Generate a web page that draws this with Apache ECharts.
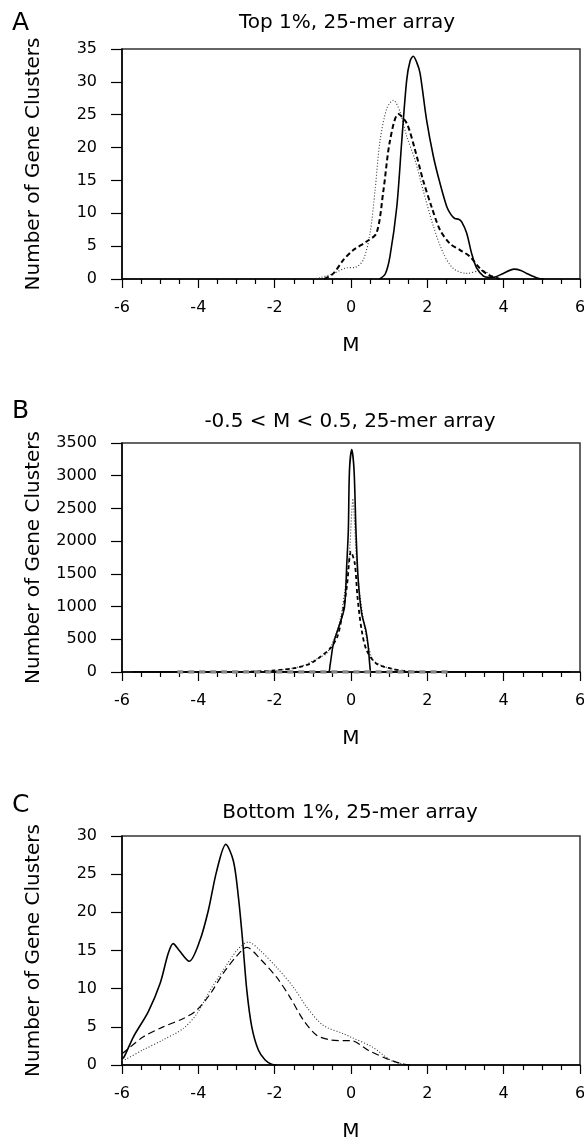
<!DOCTYPE html>
<html>
<head>
<meta charset="utf-8">
<script src="https://cdn.jsdelivr.net/npm/echarts@6/dist/echarts.min.js"></script>
<style>
  html, body { margin: 0; padding: 0; background: #fff; }
  #myChart { width: 584px; height: 1145px; }
</style>
</head>
<body>
<div id="myChart"></div>
<script>
// panel titles / tick settings
var panelTitles = ['Top 1%, 25-mer array', '-0.5 < M < 0.5, 25-mer array', 'Bottom 1%, 25-mer array'];
var panelLetters = ['A', 'B', 'C'];
var yMax = [35, 3500, 30];
var yStep = [5, 500, 5];

// A: top 1%
var aSolidM = [0.75, 0.9, 1.02, 1.2, 1.33, 1.46, 1.55, 1.63, 1.72, 1.81, 1.98, 2.16, 2.33, 2.51, 2.62, 2.72, 2.82, 2.9, 3.03, 3.16, 3.29, 3.47, 3.6, 3.73, 3.99, 4.27, 4.45, 4.6, 4.9, 5.05];
var aSolidN = [0, 0.8, 3.4, 11, 21, 30.3, 33.2, 33.9, 33.0, 31.3, 24.2, 18.6, 14.6, 11, 9.8, 9.2, 9.1, 8.7, 7, 3.9, 1.7, 0.45, 0.25, 0.25, 0.85, 1.5, 1.3, 0.85, 0.1, 0];
var aDashM = [-0.7, -0.46, -0.2, 0.06, 0.41, 0.67, 0.85, 1.02, 1.24, 1.46, 1.68, 1.89, 2.11, 2.33, 2.59, 2.86, 3.12, 3.38, 3.64, 3.9];
var aDashN = [0, 0.85, 2.9, 4.4, 5.7, 7, 13.5, 21, 25.1, 23.7, 19.6, 15, 11, 7.5, 5.4, 4.4, 3.4, 1.6, 0.5, 0];
var aDotM = [-1.0, -0.81, -0.46, -0.11, 0.1, 0.32, 0.5, 0.63, 0.76, 0.94, 1.11, 1.28, 1.46, 1.68, 1.89, 2.16, 2.42, 2.68, 3.03, 3.42, 3.73, 4.0];
var aDotN = [0, 0.2, 0.85, 1.7, 1.75, 2.9, 7, 13.5, 21, 26, 27.2, 25.5, 21.7, 18.1, 13.5, 8, 3.9, 1.6, 0.85, 1.3, 0.4, 0];

// B: -0.5 < M < 0.5
var bSolidM = [-5.75, -0.6, -0.55, -0.46, -0.29, -0.17, -0.11, -0.07, -0.04, 0.02, 0.08, 0.13, 0.19, 0.28, 0.39, 0.45, 0.5, 0.53, 5.75];
var bSolidN = [0, 0, 100, 434, 740, 993, 1660, 2165, 3082, 3398, 3082, 2165, 1400, 895, 637, 400, 60, 0, 0];
var bDashM = [-3.0, -2.5, -2.0, -1.42, -1.07, -0.81, -0.55, -0.36, -0.24, -0.11, 0.0, 0.1, 0.17, 0.28, 0.41, 0.67, 1.07, 1.35, 1.8];
var bDashN = [0, 10, 25, 66, 127, 229, 357, 535, 840, 1299, 1840, 1656, 1146, 637, 331, 127, 50, 20, 0];
var bDotM = [-2.5, -2.0, -1.5, -1.2, -1.0, -0.8, -0.64, -0.42, -0.27, -0.16, -0.05, 0.02, 0.05, 0.1, 0.15, 0.24, 0.37, 0.46, 0.58, 0.8, 1.02, 1.3, 1.6];
var bDotN = [0, 20, 60, 110, 170, 230, 281, 535, 840, 1248, 1757, 2450, 2650, 2200, 1656, 1146, 637, 382, 179, 100, 56, 20, 0];
var bGrayM = [-4.55, 2.65];
var bGrayN = [0, 0];

// C: bottom 1%
var cSolidM = [-6.0, -5.94, -5.7, -5.31, -5.0, -4.79, -4.66, -4.5, -4.24, -3.96, -3.74, -3.52, -3.28, -3.08, -2.95, -2.84, -2.73, -2.6, -2.43, -2.25, -2.08, -1.95];
var cSolidN = [0.8, 1.1, 3.7, 7, 10.7, 14.6, 15.9, 15.0, 13.6, 16.3, 20.2, 25.4, 28.9, 26.7, 22, 16.3, 9.8, 5, 2, 0.65, 0.1, 0];
var cDashM = [-6.0, -5.94, -5.44, -4.92, -4.39, -4.04, -3.69, -3.35, -2.99, -2.73, -2.38, -1.95, -1.6, -1.25, -0.9, -0.55, -0.2, 0.0, 0.46, 0.95, 1.32, 1.6];
var cDashN = [1.5, 1.7, 3.7, 5, 6.1, 7.2, 9.3, 12, 14.3, 15.4, 13.9, 11.5, 8.9, 5.9, 3.9, 3.3, 3.2, 3.2, 1.9, 0.8, 0.17, 0];
var cDotM = [-6.0, -5.94, -5.44, -4.92, -4.39, -4.04, -3.69, -3.35, -2.99, -2.69, -2.38, -1.95, -1.51, -1.16, -0.73, -0.2, 0.0, 0.56, 1.05, 1.4, 1.6];
var cDotN = [0.6, 0.65, 2, 3.3, 4.8, 6.7, 9.8, 12.4, 15, 16.1, 15, 12.8, 10.2, 7.6, 5.2, 4.1, 3.65, 2.35, 0.6, 0.1, 0];

var FONT = '"DejaVu Sans", sans-serif';

function pairs(m, n) {
  return m.map(function (x, i) { return [x, n[i]]; });
}

// plot areas (px)
var grids = [
  { left: 122, right: 4, top: 49, height: 230 },
  { left: 122, right: 4, top: 443, height: 229 },
  { left: 122, right: 4, top: 836, height: 229 }
];
var titleY = [23, 422, 813];
var titleX = [347, 350, 350];
var letterY = [23, 411, 805];

function line(idx, data, style, z) {
  return {
    type: 'line',
    xAxisIndex: idx,
    yAxisIndex: idx,
    data: data,
    showSymbol: false,
    smooth: 0.3,
    z: z || 2,
    lineStyle: style
  };
}

var solid = { color: '#000', width: 1.6, type: 'solid' };
var dotted = { color: '#333', width: 1.1, type: [1, 2] };

var option = {
  animation: false,
  backgroundColor: '#fff',
  grid: grids.map(function (g) {
    return Object.assign({
      show: true,
      borderColor: '#333',
      borderWidth: 1.5,
      containLabel: false,
      outerBoundsMode: 'none'
    }, g);
  }),
  xAxis: grids.map(function (g, i) {
    return {
      type: 'value',
      gridIndex: i,
      min: -6,
      max: 6,
      interval: 2,
      name: 'M',
      nameLocation: 'middle',
      nameGap: 57,
      nameTextStyle: { fontFamily: FONT, fontSize: 20, color: '#000' },
      axisLine: { onZero: false, lineStyle: { color: '#000', width: 1.5 } },
      axisTick: { length: 9, lineStyle: { color: '#000', width: 1.2 } },
      minorTick: { show: true, splitNumber: 4, length: 5, lineStyle: { color: '#000', width: 1.2 } },
      splitLine: { show: false },
      axisLabel: { margin: 21, fontFamily: FONT, fontSize: 16, color: '#000' }
    };
  }),
  yAxis: grids.map(function (g, i) {
    return {
      type: 'value',
      gridIndex: i,
      min: 0,
      max: yMax[i],
      interval: yStep[i],
      name: 'Number of Gene Clusters',
      nameLocation: 'middle',
      nameGap: 78,
      nameTextStyle: { fontFamily: FONT, fontSize: 20, color: '#000' },
      axisLine: { show: true, onZero: false, lineStyle: { color: '#000', width: 1.5 } },
      axisTick: { show: true, length: 11, lineStyle: { color: '#000', width: 1.2 } },
      splitLine: { show: false },
      axisLabel: {
        margin: 25, fontFamily: FONT, fontSize: 16, color: '#000',
        formatter: function (v) { return String(v); }
      }
    };
  }),
  graphic: panelLetters.map(function (t, i) {
    return {
      type: 'text',
      x: 12,
      y: letterY[i],
      style: { text: t, font: '25px ' + FONT, fill: '#000', align: 'left', verticalAlign: 'middle' }
    };
  }).concat(panelTitles.map(function (t, i) {
    return {
      type: 'text',
      x: titleX[i],
      y: titleY[i],
      style: { text: t, font: '20px ' + FONT, fill: '#000', align: 'center', verticalAlign: 'middle' }
    };
  })),
  series: [
    line(0, pairs(aDotM, aDotN), dotted),
    line(0, pairs(aDashM, aDashN), { color: '#000', width: 2, type: [5, 3] }),
    line(0, pairs(aSolidM, aSolidN), solid, 3),
    line(1, pairs(bDotM, bDotN), dotted),
    line(1, pairs(bDashM, bDashN), { color: '#000', width: 1.8, type: [4, 3] }),
    line(1, pairs(bSolidM, bSolidN), solid, 3),
    line(1, pairs(bGrayM, bGrayN), { color: '#888', width: 3.5, type: [6, 5] }, 4),
    line(2, pairs(cDotM, cDotN), dotted),
    line(2, pairs(cDashM, cDashN), { color: '#000', width: 1.2, type: [7, 4] }),
    line(2, pairs(cSolidM, cSolidN), solid, 3)
  ]
};

var myChart = echarts.init(document.getElementById('myChart'));
myChart.setOption(option);
</script>
</body>
</html>
